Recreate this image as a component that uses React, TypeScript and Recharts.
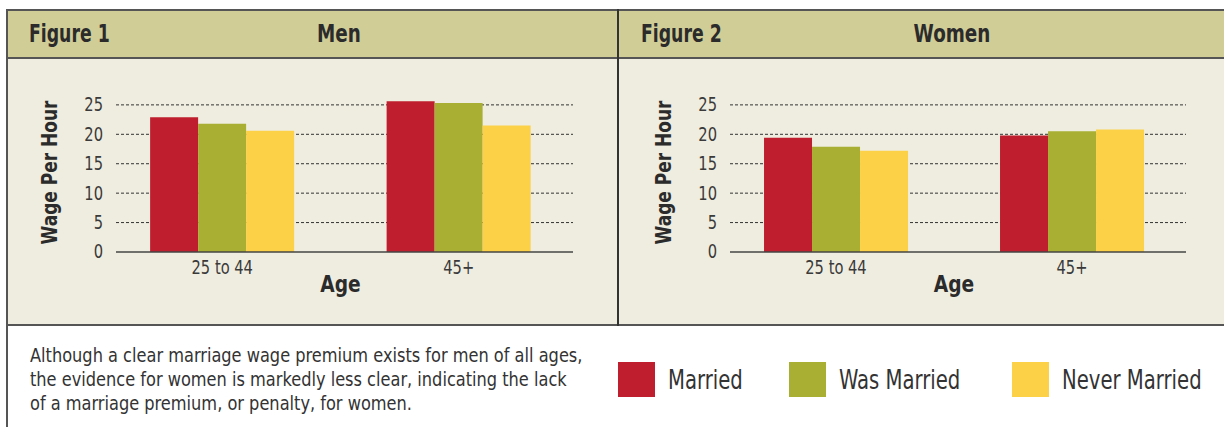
import React from "react";
import { BarChart, Bar, XAxis, YAxis, CartesianGrid } from "recharts";

const ageGroups = ["25 to 44", "45+"];
const seriesNames = ["Married", "Was Married", "Never Married"];
const seriesColors = ["#BE1E2D", "#A9AF32", "#FCD148"];
const wageTicks = [0, 5, 10, 15, 20, 25];
const wageMax = 26;

const menMarried = [22.9, 25.6];
const menWasMarried = [21.8, 25.3];
const menNeverMarried = [20.6, 21.5];

const womenMarried = [19.4, 19.8];
const womenWasMarried = [17.9, 20.5];
const womenNeverMarried = [17.2, 20.8];

const COND = "'DejaVu Sans Condensed', 'Liberation Sans Narrow', 'Arial Narrow', sans-serif";
const INK = "#2b2b2b";
const FRAME = "#555";
const legendLeft = [618, 789, 1012];

const buildRows = (a: number[], b: number[], c: number[]) =>
  ageGroups.map((age, i) => ({ age, s0: a[i], s1: b[i], s2: c[i] }));

const menRows = buildRows(menMarried, menWasMarried, menNeverMarried);
const womenRows = buildRows(womenMarried, womenWasMarried, womenNeverMarried);

const yTitle = (dx: number) => (props: any) => {
  const vb = props.viewBox;
  const x = vb.x + dx;
  const y = vb.y + vb.height / 2 - 3;
  return (
    <text
      transform={`translate(${x}, ${y}) rotate(-90) scale(0.9, 1)`}
      textAnchor="middle"
      dominantBaseline="central"
      fontFamily={COND}
      fontWeight="bold"
      fontSize={21}
      fill={INK}
    >
      Wage Per Hour
    </text>
  );
};

const xTitle = (props: any) => {
  const vb = props.viewBox;
  return (
    <text
      transform={`translate(${vb.x + vb.width / 2 - 4}, ${vb.y + 32}) scale(0.9, 1)`}
      textAnchor="middle"
      dominantBaseline="central"
      fontFamily={COND}
      fontWeight="bold"
      fontSize={23}
      fill={INK}
    >
      Age
    </text>
  );
};

const XTick = (props: any) => {
  const { x, y, payload } = props;
  return (
    <text
      transform={`translate(${x}, ${y + 8}) scale(0.86, 1)`}
      textAnchor="middle"
      dominantBaseline="central"
      fontFamily={COND}
      fontSize={19}
      fill="#3a3a3a"
    >
      {payload.value}
    </text>
  );
};

const YTick = (props: any) => {
  const { x, y, payload } = props;
  return (
    <text
      transform={`translate(${x}, ${y}) scale(0.86, 1)`}
      textAnchor="end"
      dominantBaseline="central"
      fontFamily={COND}
      fontSize={19}
      fill="#3a3a3a"
    >
      {payload.value}
    </text>
  );
};

// dashed rows only at the labelled ticks (not at the padded top of the domain)
const gridRows = ({ offset }: any) =>
  wageTicks
    .filter((t) => t > 0)
    .map((t) => offset.top + offset.height * (1 - t / wageMax));

type PanelProps = {
  rows: { age: string; s0: number; s1: number; s2: number }[];
  width: number;
  axisWidth: number;
  right: number;
  labelX: number;
};

const Panel = ({ rows, width, axisWidth, right, labelX }: PanelProps) => (
  <BarChart
    width={width}
    height={268}
    data={rows}
    margin={{ top: 41, right, bottom: 32, left: 0 }}
    barCategoryGap="19.5%"
    barGap={0}
  >
    <CartesianGrid
      vertical={false}
      stroke="#333"
      strokeDasharray="3 2"
      horizontalCoordinatesGenerator={gridRows}
    />
    <XAxis
      dataKey="age"
      height={42}
      tickLine={false}
      interval={0}
      padding={{ left: -12, right: -4 }}
      axisLine={{ stroke: "#444", strokeWidth: 1.5 }}
      tick={<XTick />}
      label={xTitle}
    />
    <YAxis
      width={axisWidth}
      domain={[0, wageMax]}
      allowDataOverflow
      ticks={wageTicks}
      axisLine={false}
      tickLine={false}
      tickMargin={7}
      tick={<YTick />}
      label={yTitle(labelX)}
    />
    {seriesNames.map((name, i) => (
      <Bar
        key={name}
        dataKey={`s${i}`}
        name={name}
        fill={seriesColors[i]}
        isAnimationActive={false}
      />
    ))}
  </BarChart>
);

const headText: React.CSSProperties = {
  position: "absolute",
  top: 21,
  fontFamily: COND,
  fontWeight: "bold",
  fontSize: 24,
  color: INK,
  lineHeight: "26px",
  whiteSpace: "nowrap",
};

export default function App() {
  return (
    <div
      style={{
        position: "absolute",
        left: 0,
        top: 0,
        width: 1224,
        height: 427,
        background: "#fff",
        overflow: "hidden",
      }}
    >
      {/* header band */}
      <div style={{ position: "absolute", left: 7, top: 10, width: 1217, height: 48, background: "#D1CD97" }} />
      {/* chart background */}
      <div style={{ position: "absolute", left: 7, top: 58, width: 1217, height: 267, background: "#EFEDE0" }} />
      {/* frame lines */}
      <div style={{ position: "absolute", left: 6, top: 9, width: 1218, height: 2, background: FRAME }} />
      <div style={{ position: "absolute", left: 6, top: 57, width: 1218, height: 2, background: FRAME }} />
      <div style={{ position: "absolute", left: 6, top: 324, width: 1218, height: 2, background: FRAME }} />
      <div style={{ position: "absolute", left: 6, top: 9, width: 2, height: 418, background: FRAME }} />
      <div style={{ position: "absolute", left: 617, top: 9, width: 2, height: 317, background: "#333" }} />

      <div style={{ ...headText, left: 29, transform: "scaleX(0.8)", transformOrigin: "left center" }}>Figure 1</div>
      <div style={{ ...headText, left: 339, transform: "translateX(-50%) scaleX(0.85)" }}>Men</div>
      <div style={{ ...headText, left: 641, transform: "scaleX(0.8)", transformOrigin: "left center" }}>Figure 2</div>
      <div style={{ ...headText, left: 952, transform: "translateX(-50%) scaleX(0.85)" }}>Women</div>

      <div style={{ position: "absolute", left: 0, top: 58 }}>
        <Panel rows={menRows} width={618} axisWidth={116} right={45} labelX={50} />
      </div>
      <div style={{ position: "absolute", left: 618, top: 58 }}>
        <Panel rows={womenRows} width={606} axisWidth={112} right={38} labelX={46} />
      </div>

      <div
        style={{
          position: "absolute",
          left: 30,
          top: 343,
          fontFamily: COND,
          fontSize: 20,
          lineHeight: "24px",
          color: "#333",
          whiteSpace: "nowrap",
          transform: "scaleX(0.9)",
          transformOrigin: "left top",
        }}
      >
        Although a clear marriage wage premium exists for men of all ages,
        <br />
        the evidence for women is markedly less clear, indicating the lack
        <br />
        of a marriage premium, or penalty, for women.
      </div>

      {seriesNames.map((name, i) => (
        <div
          key={name}
          style={{ position: "absolute", left: legendLeft[i], top: 362, height: 35, display: "flex", alignItems: "center", whiteSpace: "nowrap" }}
        >
          <div style={{ width: 37, height: 35, background: seriesColors[i], marginRight: 13 }} />
          <span
            style={{
              fontFamily: COND,
              fontSize: 26,
              color: "#333",
              display: "inline-block",
              transform: "scaleX(0.84)",
              transformOrigin: "left center",
            }}
          >
            {name}
          </span>
        </div>
      ))}
    </div>
  );
}
